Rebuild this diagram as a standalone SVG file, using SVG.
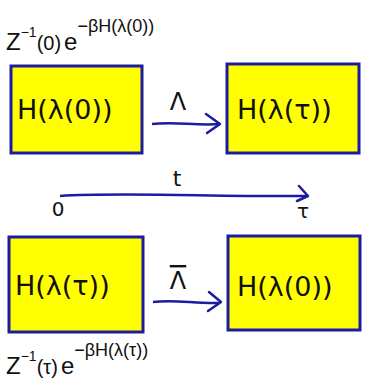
<svg xmlns="http://www.w3.org/2000/svg" width="368" height="385" viewBox="0 0 368 385">
<style>
.box{fill:#ffff00;stroke:#1c1ca0;stroke-width:3}
.lbl{font-family:"DejaVu Sans",sans-serif;font-size:27px;fill:#111}
.t{font-family:"DejaVu Sans",sans-serif;fill:#111}
.f{font-family:"Liberation Sans",sans-serif;fill:#111}
.con{fill:none;stroke:#1c1ca0;stroke-width:2.5}
.head{fill:none;stroke:#1c1ca0;stroke-width:2.5;stroke-linecap:round;stroke-linejoin:round}
</style>
<rect width="368" height="385" fill="#ffffff"/>
<g id="connectors">
<path class="con" d="M152,124 C175,121 195,126 220,124"/>
<path class="head" d="M206,114 L220,124 L207,133"/>
<path class="con" d="M60,196 C120,192 220,197 308,196"/>
<path class="head" d="M299,186 L308,196 L297,201"/>
<path class="con" d="M153,302 C175,299 195,304 220,303"/>
<path class="head" d="M209,292 L221,302 L208,311"/>
<text class="t" x="178" y="110" font-size="24" text-anchor="middle">Λ</text>
<text class="t" x="178" y="289" font-size="24" text-anchor="middle" style="text-decoration:overline">Λ</text>
<text class="t" x="177" y="186" font-size="22" text-anchor="middle">t</text>
<text class="t" x="58" y="216" font-size="20" text-anchor="middle">0</text>
<text class="t" x="303" y="218" font-size="20" text-anchor="middle">τ</text>
</g>
<g id="n1">
<rect class="box" x="11" y="66" width="131" height="87"/>
<text class="lbl" x="17" y="119">H(λ(0))</text>
</g>
<g id="n2">
<rect class="box" x="227" y="64" width="132" height="89"/>
<text class="lbl" x="237" y="119">H(λ(τ))</text>
</g>
<g id="n3">
<rect class="box" x="9" y="237" width="134" height="95"/>
<text class="lbl" x="15" y="295">H(λ(τ))</text>
</g>
<g id="n4">
<rect class="box" x="228" y="236" width="132" height="94"/>
<text class="lbl" x="237" y="296">H(λ(0))</text>
</g>
<g id="f1">
<text class="f" x="6" y="50" font-size="24">Z<tspan font-size="14" dy="-13">−1</tspan><tspan dy="13" font-size="20">(0)</tspan><tspan dx="3" font-size="24">e</tspan><tspan font-size="18" dy="-18">−βH(λ(0))</tspan></text>
</g>
<g id="f2">
<text class="f" x="6" y="374" font-size="24">Z<tspan font-size="14" dy="-13">−1</tspan><tspan dy="13" font-size="20">(τ)</tspan><tspan dx="3" font-size="24">e</tspan><tspan font-size="18" dy="-18">−βH(λ(τ))</tspan></text>
</g>
</svg>
